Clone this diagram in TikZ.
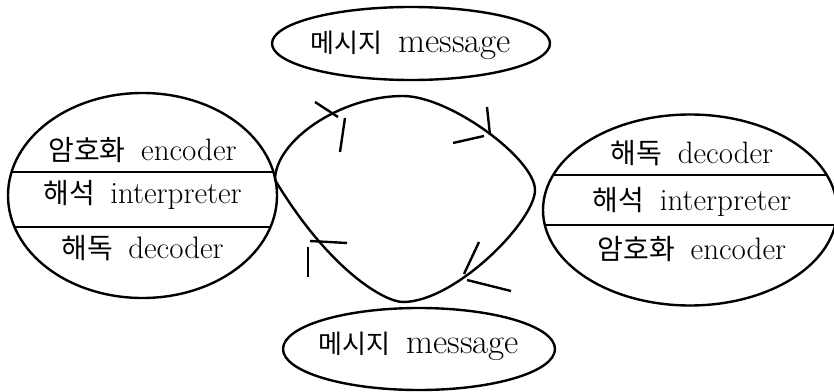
\documentclass[tikz,border=0pt]{standalone}
\usepackage{fontspec}
\usetikzlibrary{shapes.geometric,calc}
\newfontfamily\kr{Noto Sans CJK KR}
\newcommand{\pair}[2]{{\kr\fontsize{28}{32}\selectfont #1}\hspace{0.5em}#2}
\newcommand{\msg}{{\kr\fontsize{26}{32}\selectfont 메시지}\hspace{0.45em}message}
\tikzset{
  oval/.style={ellipse,draw,inner sep=0pt},
  lbl/.style={inner sep=0pt,font=\fontsize{31}{36}\selectfont},
  msglbl/.style={inner sep=0pt,font=\fontsize{35}{40}\selectfont},
  divider/.style={line width=2.4pt}
}

\begin{document}
\begin{tikzpicture}[x=1pt,y=1pt,line width=2.4pt]
  \useasboundingbox (0,0) rectangle (834,391);
  \node[oval,minimum width=278pt,minimum height=73pt] (msgtop) at (411,347.5) {};
  \node[oval,minimum width=272pt,minimum height=82pt] (msgbot) at (419,42) {};
  \node[msglbl] (msgtoptext) at ($(msgtop)+(0,-2)$) {\msg};
  \node[msglbl] (msgbottext) at ($(msgbot)+(0,3)$) {\msg};
  \node[oval,minimum width=269pt,minimum height=205pt,path picture={
      \draw[divider] ($(path picture bounding box.center)+(-160,23.5)$) -- +(320,0);
      \draw[divider] ($(path picture bounding box.center)+(-160,-31.5)$) -- +(320,0);}]
    (sender) at (142.5,195.5) {};
  \node[oval,minimum width=294pt,minimum height=191pt,path picture={
      \draw[divider] ($(path picture bounding box.center)+(-160,35)$) -- +(320,0);
      \draw[divider] ($(path picture bounding box.center)+(-160,-15)$) -- +(320,0);}]
    (receiver) at (690,181) {};
  \node[lbl] (sendenc) at ($(sender)+(0,45.5)$) {\pair{암호화}{encoder}};
  \node[lbl] (sendint) at ($(sender)+(0,0.5)$) {\pair{해석}{interpreter}};
  \node[lbl] (senddec) at ($(sender)+(0,-52.5)$) {\pair{해독}{decoder}};
  \node[lbl] (recvdec) at ($(receiver)+(2,57)$) {\pair{해독}{decoder}};
  \node[lbl] (recvint) at ($(receiver)+(2,8)$) {\pair{해석}{interpreter}};
  \node[lbl] (recvenc) at ($(receiver)+(2,-39)$) {\pair{암호화}{encoder}};
  \draw (275,211) .. controls (275,250) and (340,295) .. (403,295)
    .. controls (450,295) and (535,232) .. (535,201)
    .. controls (535,170) and (455,89) .. (403,89)
    .. controls (385,89) and (330,120) .. (275,211);
  \foreach \xa/\ya/\xb/\yb in {315/289/338/274,345/273/340/239,487/284/490/256,453/248/484/255,
      479/149/464/117,467/111/511/100,310/150/347/148,308/144/308/114}
    \draw (\xa,\ya) -- (\xb,\yb);
\end{tikzpicture}
\end{document}
